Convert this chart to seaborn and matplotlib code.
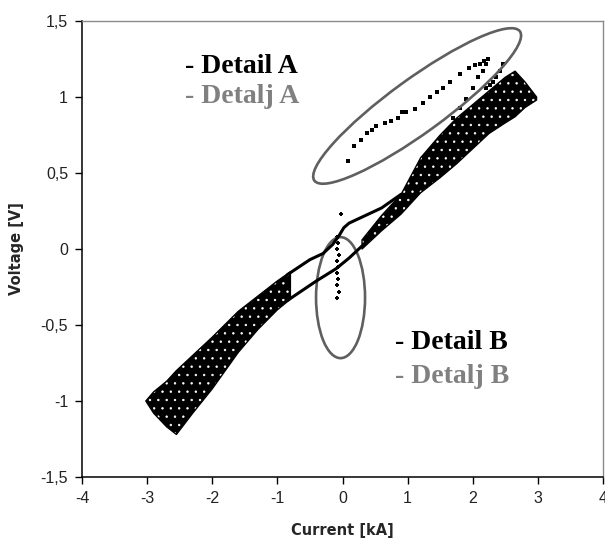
import matplotlib
matplotlib.use("Agg")
import matplotlib.pyplot as plt
import matplotlib.patches as mpatches
from matplotlib.transforms import ScaledTranslation
import seaborn as sns
import pandas as pd

# ---- measured current/voltage data -------------------------------------
# dense hysteresis band, negative side (envelope of the recorded cloud)
band_left_x = [-3.02, -2.9, -2.7, -2.55, -2.3, -2.0, -1.6, -1.3, -1.0, -0.8]
band_left_hi = [-1.00, -0.94, -0.87, -0.80, -0.70, -0.58, -0.41, -0.31, -0.21, -0.15]
band_left_lo = [-1.00, -1.08, -1.17, -1.22, -1.08, -0.92, -0.68, -0.53, -0.40, -0.33]

# dense hysteresis band, positive side
band_right_x = [0.3, 0.6, 0.9, 1.2, 1.5, 1.75, 2.0, 2.25, 2.5, 2.65, 2.8, 2.98]
band_right_hi = [0.06, 0.22, 0.36, 0.60, 0.75, 0.86, 0.95, 1.04, 1.13, 1.17, 1.10, 1.00]
band_right_lo = [0.00, 0.12, 0.23, 0.37, 0.47, 0.56, 0.66, 0.76, 0.83, 0.87, 0.93, 0.98]

# the two branches crossing zero current
upper_branch_x = [-0.85, -0.5, -0.3, -0.15, -0.05, 0.02, 0.1, 0.2, 0.35, 0.6, 0.9]
upper_branch_y = [-0.17, -0.07, -0.03, 0.03, 0.09, 0.14, 0.17, 0.19, 0.22, 0.27, 0.36]
lower_branch_x = [-0.85, -0.4, -0.1, 0.1, 0.3]
lower_branch_y = [-0.34, -0.21, -0.13, -0.06, 0.02]

# detail A: excursion at high current
detail_a_x = [0.09, 0.18, 0.29, 0.37, 0.45, 0.52, 0.65, 0.75, 0.85, 0.92, 0.98, 1.11,
              1.23, 1.34, 1.45, 1.55, 1.65, 1.8, 1.95, 2.03, 2.11, 2.17, 2.23,
              2.2, 2.15, 2.08, 2.0, 1.9, 1.8, 1.69,
              2.46, 2.42, 2.36, 2.31, 2.26, 2.21]
detail_a_y = [0.58, 0.68, 0.72, 0.76, 0.78, 0.81, 0.83, 0.84, 0.86, 0.90, 0.90, 0.92,
              0.96, 1.00, 1.03, 1.06, 1.10, 1.15, 1.19, 1.21, 1.22, 1.24, 1.25,
              1.22, 1.17, 1.13, 1.06, 0.99, 0.93, 0.86,
              1.22, 1.17, 1.13, 1.10, 1.08, 1.06]

# detail B: jump at zero current
detail_b_x = [-0.02, -0.08, -0.07, -0.08, -0.06, -0.08, -0.07, -0.08, -0.07, -0.08, -0.06, -0.08]
detail_b_y = [0.23, 0.08, 0.04, 0.0, -0.04, -0.08, -0.12, -0.16, -0.20, -0.24, -0.28, -0.32]

x_ticks = [-4, -3, -2, -1, 0, 1, 2, 3, 4]
y_ticks = [-1.5, -1.0, -0.5, 0.0, 0.5, 1.0, 1.5]
y_tick_labels = ["-1,5", "-1", "-0,5", "0", "0,5", "1", "1,5"]

# ---- figure -------------------------------------------------------------
sns.set_theme(style="white")
plt.rcParams["font.family"] = ["Liberation Sans", "DejaVu Sans"]
plt.rcParams["hatch.linewidth"] = 0.5

fig = plt.figure(figsize=(6.05, 5.4), dpi=100)
ax = fig.add_axes([82 / 605, 63 / 540, 521 / 605, 456 / 540])

# dense band drawn as a speckled black fill
for bx, hi, lo in [(band_left_x, band_left_hi, band_left_lo),
                   (band_right_x, band_right_hi, band_right_lo)]:
    ax.fill_between(bx, lo, hi, facecolor="black", edgecolor="white",
                    hatch="..", linewidth=0)
    ax.fill_between(bx, lo, hi, facecolor="none", edgecolor="black", linewidth=1.0)

branches = pd.DataFrame({
    "x": upper_branch_x + lower_branch_x,
    "y": upper_branch_y + lower_branch_y,
    "b": ["up"] * len(upper_branch_x) + ["lo"] * len(lower_branch_x),
})
sns.lineplot(data=branches, x="x", y="y", units="b", estimator=None, sort=False,
             color="black", linewidth=2.2, ax=ax, legend=False)

sns.scatterplot(x=detail_a_x, y=detail_a_y, color="black", marker="s", s=6,
                linewidth=0, ax=ax, legend=False)
sns.scatterplot(x=detail_b_x, y=detail_b_y, color="black", marker="P", s=9,
                linewidth=0, ax=ax, legend=False)

# highlight ellipses (sizes in pixels, anchored at data centres)
def ring(cx, cy, w_px, h_px, angle):
    tr = fig.dpi_scale_trans + ScaledTranslation(cx, cy, ax.transData)
    ax.add_patch(mpatches.Ellipse((0, 0), w_px / 100, h_px / 100, angle=angle,
                                  transform=tr, facecolor="none",
                                  edgecolor="#5f5f5f", linewidth=1.9))

ring(1.146, 0.941, 254, 54, 36)
ring(-0.03, -0.32, 49, 121, 0)

serif = dict(family=["Liberation Serif", "DejaVu Serif"], fontweight="bold", fontsize=20)
ax.text(-2.42, 1.158, "- Detail A", color="black", va="baseline", **serif)
ax.text(-2.42, 0.963, "- Detalj A", color="#808080", va="baseline", **serif)
ax.text(0.81, -0.658, "- Detail B", color="black", va="baseline", **serif)
ax.text(0.81, -0.88, "- Detalj B", color="#808080", va="baseline", **serif)

ax.set_xlim(-4, 4)
ax.set_ylim(-1.5, 1.5)
ax.set_xticks(x_ticks)
ax.set_xticklabels([str(t) for t in x_ticks])
ax.set_yticks(y_ticks)
ax.set_yticklabels(y_tick_labels)
ax.tick_params(axis="both", direction="out", length=5, width=1, color="black",
               labelsize=11.5, pad=5, bottom=True, left=True, labelcolor="#222222")

for side in ["left", "bottom"]:
    ax.spines[side].set_color("black")
    ax.spines[side].set_linewidth(1.1)
for side in ["top", "right"]:
    ax.spines[side].set_color("#8a8a8a")
    ax.spines[side].set_linewidth(1.0)

lab = dict(fontsize=10.5, fontweight="bold", family=["DejaVu Sans"])
ax.set_xlabel("Current [kA]", **lab)
ax.set_ylabel("Voltage [V]", **lab)
ax.xaxis.set_label_coords(0.5, -0.101)
ax.yaxis.set_label_coords(-0.111, 0.502)

fig.savefig("out.png", dpi=100)
